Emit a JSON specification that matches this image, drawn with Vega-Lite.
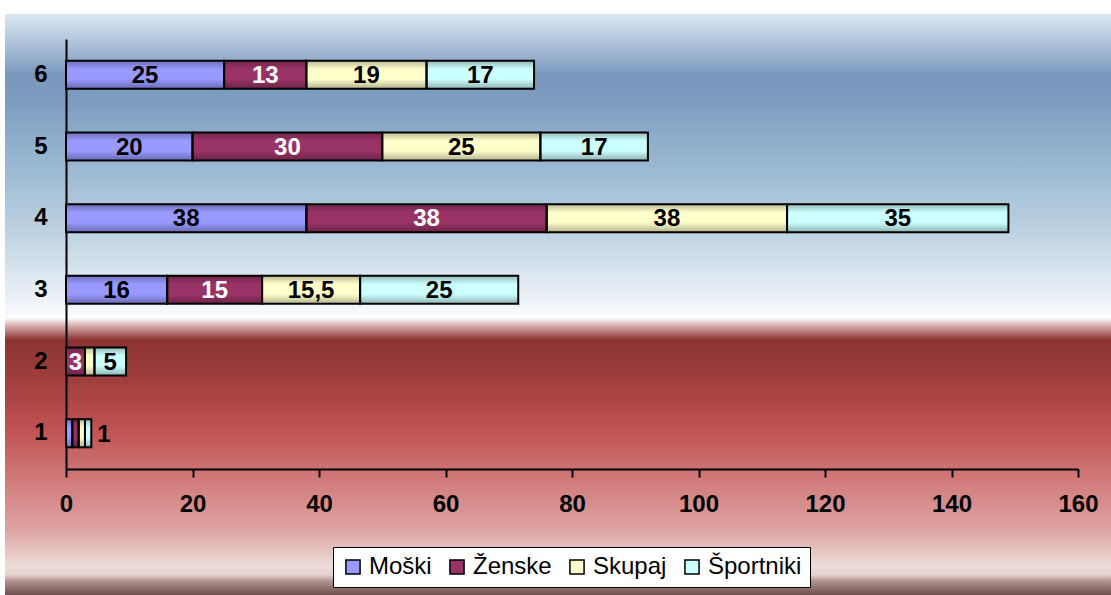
{
  "$schema": "https://vega.github.io/schema/vega-lite/v6.json",
  "width": 1106,
  "height": 581,
  "autosize": {"type": "none"},
  "padding": {"left": 5, "top": 14, "right": 0, "bottom": 0},
  "background": "white",
  "view": {
    "stroke": null,
    "fill": {
      "gradient": "linear", "x1": 0, "y1": 0, "x2": 0, "y2": 1,
      "stops": [
        {"offset": 0.0, "color": "#d9e7f1"},
        {"offset": 0.053, "color": "#abc1d8"},
        {"offset": 0.105, "color": "#7a97bd"},
        {"offset": 0.148, "color": "#7d9dc1"},
        {"offset": 0.234, "color": "#92b2cd"},
        {"offset": 0.372, "color": "#bcd1e1"},
        {"offset": 0.475, "color": "#e6eef5"},
        {"offset": 0.523, "color": "#fbfcfd"},
        {"offset": 0.537, "color": "#d6aaaa"},
        {"offset": 0.561, "color": "#8c3333"},
        {"offset": 0.63, "color": "#a03e3e"},
        {"offset": 0.716, "color": "#c05353"},
        {"offset": 0.802, "color": "#d07a7a"},
        {"offset": 0.888, "color": "#dea4a2"},
        {"offset": 0.95, "color": "#ecdcd8"},
        {"offset": 0.965, "color": "#e5d3cf"},
        {"offset": 0.976, "color": "#b09390"},
        {"offset": 1.0, "color": "#6e4e4c"}
      ]
    }
  },
  "config": {
    "font": "Liberation Sans",
    "locale": {"number": {"decimal": ",", "thousands": ".", "grouping": [3], "currency": ["", " €"]}}
  },
  "data": {
    "values": [
      {"row": "6", "series": "Moški", "value": 25},
      {"row": "6", "series": "Ženske", "value": 13},
      {"row": "6", "series": "Skupaj", "value": 19},
      {"row": "6", "series": "Športniki", "value": 17},
      {"row": "5", "series": "Moški", "value": 20},
      {"row": "5", "series": "Ženske", "value": 30},
      {"row": "5", "series": "Skupaj", "value": 25},
      {"row": "5", "series": "Športniki", "value": 17},
      {"row": "4", "series": "Moški", "value": 38},
      {"row": "4", "series": "Ženske", "value": 38},
      {"row": "4", "series": "Skupaj", "value": 38},
      {"row": "4", "series": "Športniki", "value": 35},
      {"row": "3", "series": "Moški", "value": 16},
      {"row": "3", "series": "Ženske", "value": 15},
      {"row": "3", "series": "Skupaj", "value": 15.5},
      {"row": "3", "series": "Športniki", "value": 25},
      {"row": "2", "series": "Moški", "value": 0},
      {"row": "2", "series": "Ženske", "value": 3},
      {"row": "2", "series": "Skupaj", "value": 1.5},
      {"row": "2", "series": "Športniki", "value": 5},
      {"row": "1", "series": "Moški", "value": 1},
      {"row": "1", "series": "Ženske", "value": 1},
      {"row": "1", "series": "Skupaj", "value": 1},
      {"row": "1", "series": "Športniki", "value": 1}
    ]
  },
  "transform": [
    {"stack": "value", "groupby": ["row"], "as": ["x0", "x1"]},
    {"calculate": "(datum.x0 + datum.x1) / 2", "as": "xm"}
  ],
  "encoding": {
    "y": {
      "field": "row", "type": "nominal",
      "scale": {"domain": ["6", "5", "4", "3", "2", "1"], "range": [25, 455], "paddingInner": 0, "paddingOuter": 0},
      "axis": {
        "title": null, "offset": -61, "ticks": false, "domainColor": "black", "domainWidth": 2,
        "labelPadding": 19, "labelFont": "Liberation Sans", "labelFontSize": 24, "labelFontWeight": "bold",
        "labelColor": "black", "labelAngle": 0
      }
    }
  },
  "layer": [
    {
      "mark": {"type": "bar", "size": 28},
      "encoding": {
        "x": {
          "field": "x0", "type": "quantitative",
          "scale": {"domain": [0, 160], "range": [61, 1073], "nice": false, "zero": false},
          "axis": {
            "title": null, "offset": -126, "values": [0, 20, 40, 60, 80, 100, 120, 140, 160],
            "grid": false, "domainColor": "black", "domainWidth": 2, "tickColor": "black", "tickWidth": 2,
            "tickSize": 8, "labelPadding": 15, "labelFlush": false, "labelFont": "Liberation Sans", "labelFontSize": 24,
            "labelFontWeight": "bold", "labelColor": "black", "format": "d"
          }
        },
        "x2": {"field": "x1"},
        "color": {
          "field": "series", "type": "nominal",
          "scale": {
            "domain": ["Moški", "Ženske", "Skupaj", "Športniki"],
            "range": ["#9999ff", "#993366", "#ffffcc", "#ccffff"]
          },
          "legend": {
            "title": null, "orient": "none", "legendX": 328, "legendY": 533, "direction": "horizontal",
            "fillColor": "white", "strokeColor": "black", "padding": 8,
            "symbolType": "square", "symbolSize": 200, "symbolStrokeColor": "black", "symbolStrokeWidth": 1.5,
            "symbolOpacity": 1,
            "labelFont": "Liberation Sans", "labelFontSize": 24, "labelColor": "black", "labelOffset": 4,
            "columnPadding": 13, "labelLimit": 200
          }
        }
      }
    },
    {
      "mark": {
        "type": "bar", "size": 28, "stroke": "black", "strokeWidth": 2,
        "fill": {
          "gradient": "linear", "x1": 0, "y1": 0, "x2": 0, "y2": 1,
          "stops": [
            {"offset": 0, "color": "rgba(0,0,0,0.28)"},
            {"offset": 0.3, "color": "rgba(0,0,0,0)"},
            {"offset": 0.65, "color": "rgba(0,0,0,0)"},
            {"offset": 1, "color": "rgba(0,0,0,0.3)"}
          ]
        }
      },
      "encoding": {
        "x": {"field": "x0", "type": "quantitative"},
        "x2": {"field": "x1"}
      }
    },
    {
      "transform": [{"filter": "datum.value >= 3"}],
      "mark": {"type": "text", "font": "Liberation Sans", "fontSize": 24, "fontWeight": "bold", "baseline": "middle", "align": "center", "dy": 1},
      "encoding": {
        "x": {"field": "xm", "type": "quantitative"},
        "text": {"field": "value", "type": "quantitative", "format": "~f"},
        "color": {"condition": {"test": "datum.series === 'Ženske'", "value": "white"}, "value": "black"}
      }
    },
    {
      "transform": [{"filter": "datum.row === '1' && datum.series === 'Športniki'"}],
      "mark": {"type": "text", "font": "Liberation Sans", "fontSize": 24, "fontWeight": "bold", "baseline": "middle", "align": "left", "dx": 6, "dy": 2, "color": "black"},
      "encoding": {
        "x": {"field": "x1", "type": "quantitative"},
        "text": {"field": "value", "type": "quantitative", "format": "~f"}
      }
    }
  ]
}
